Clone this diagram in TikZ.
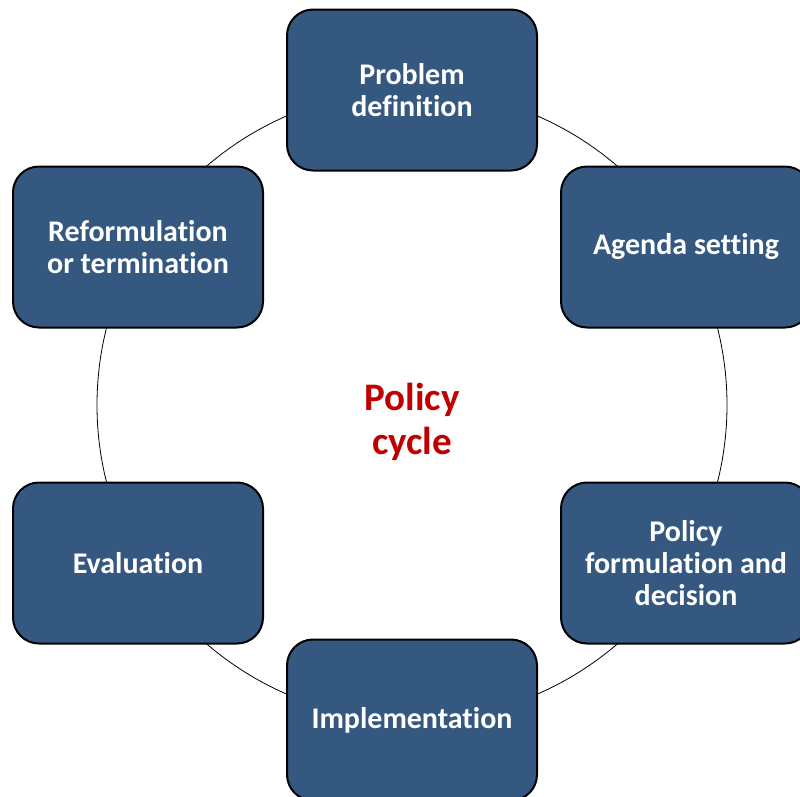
\documentclass[tikz,border=0pt]{standalone}
\usepackage{fontspec}
\setmainfont{Carlito}[Ligatures=CommonOff]
\begin{document}
\begin{tikzpicture}[x=1pt,y=-1pt,
  stage/.style={draw=black, line width=2pt, fill=stageblue, rounded corners=26pt,
    minimum width=250pt, minimum height=161pt, inner sep=0pt,
    text=white, align=center, font=\bfseries\fontsize{30}{32}\selectfont},
  ring/.style={draw=black, line width=0.8pt},
  title/.style={text=titlered, align=center, font=\bfseries\fontsize{39}{44}\selectfont}]
\definecolor{stageblue}{RGB}{52,88,128}
\definecolor{titlered}{RGB}{192,0,0}
\useasboundingbox (0,0) rectangle (800,796);
\coordinate (c) at (412,405);
\draw[ring] (c) circle[radius=315];
\node[stage] (prob) at (412,90)  {Problem\\definition};
\node[stage] (agen) at (686,247) {Agenda setting};
\node[stage] (form) at (686,563) {Policy\\formulation and\\decision};
\node[stage] (impl) at (412,720) {Implementation};
\node[stage] (eval) at (138,563) {Evaluation};
\node[stage] (refo) at (138,247) {Reformulation\\or termination};
\node[title] (cyc) at (412,422) {Policy\\cycle};
\end{tikzpicture}
\end{document}
